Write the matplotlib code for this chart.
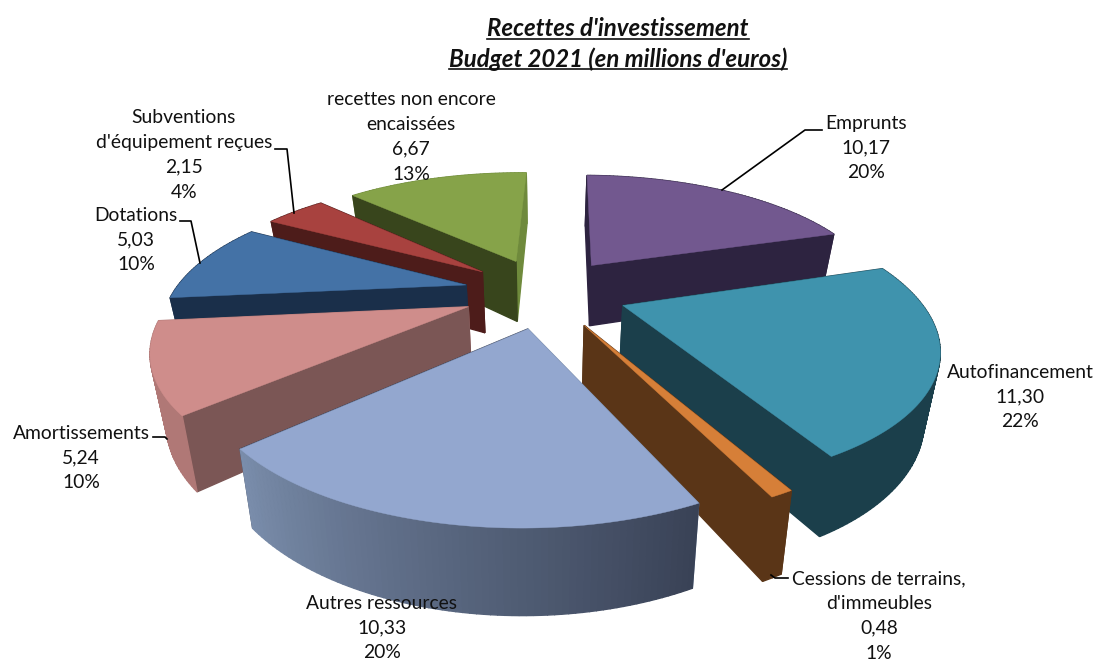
import numpy as np
import matplotlib
matplotlib.use("Agg")
import matplotlib.pyplot as plt
from matplotlib.patches import Polygon
from matplotlib.colors import to_rgb

# ---------- data ----------
names = ["Emprunts", "Autofinancement", "Cessions de terrains,\nd'immeubles", "Autres ressources",
         "Amortissements", "Dotations", "Subventions\nd'équipement reçues", "recettes non encore\nencaissées"]
values = [10.17, 11.30, 0.48, 10.33, 5.24, 5.03, 2.15, 6.67]
title_lines = ["Recettes d'investissement", "Budget 2021 (en millions d'euros)"]

# ---------- styles ----------
top_colors = ["#72588f", "#3f93ad", "#d67f38", "#93a7cf", "#cf8d8b", "#4472a6", "#a8423f", "#86a349"]
radial_colors = ["#2d2340", "#1b3f4b", "#5a3517", "#7a8dab", "#7b5655", "#1a2f4a", "#4d1c1a", "#38451c"]
radial_end_colors = ["#2d2340", "#1b3f4b", "#5a3517", "#394256", "#b07876", "#1a2f4a", "#4d1c1a", "#6f8a3c"]
arc_left = ["#2d2340", "#1b3f4b", "#5a3517", "#7a8dab", "#b07876", "#1a2f4a", "#4d1c1a", "#6f8a3c"]
arc_right = ["#2d2340", "#1b3f4b", "#5a3517", "#394256", "#b07876", "#1a2f4a", "#4d1c1a", "#6f8a3c"]
draw_order = [7, 0, 6, 5, 4, 1, 2, 3]

START = np.radians(1.2)
CX, CY, R, RT, K, EXPL = 545, 292, 292, 125, 0.255, 0.28
CYB, RB, RTB = 355, 280, 138
label_pos = [(866, 148), (1020, 397), (879, 616), (382, 628), (81, 458), (136, 240), (184, 155), (411, 137)]
leaders = [[(822, 130), (805, 130), (722, 190)], [], [(788, 578), (775, 578), (771, 575)], [],
           [(153, 437), (165, 437), (167, 439)], [(180, 221), (191, 221), (200, 263)],
           [(275, 149), (287, 149), (294, 213)], []]
FS = 13.9
FONT = "Lato"


def project(X, Y, bottom=False):
    d = 1 + K * Y
    if bottom:
        return CX + RB * X / d, CYB - RTB * Y / d
    return CX + R * X / d, CY - RT * Y / d


fig = plt.figure(figsize=(10.97, 6.59), dpi=100)
ax = fig.add_axes([0, 0, 1, 1])
ax.set_xlim(0, 1097)
ax.set_ylim(659, 0)
ax.axis("off")

total = sum(values)
edges = START + np.concatenate([[0], np.cumsum(values)]) / total * 2 * np.pi


def mix(a, b, t):
    a, b = np.array(to_rgb(a)), np.array(to_rgb(b))
    return tuple(a + (b - a) * t)


for z, i in enumerate(draw_order):
    a0, a1 = edges[i], edges[i + 1]
    mid = (a0 + a1) / 2
    ox, oy = EXPL * np.sin(mid), EXPL * np.cos(mid)
    th = np.linspace(a0, a1, max(int((a1 - a0) * 60), 3))
    AX, AY = ox + np.sin(th), oy + np.cos(th)
    faces = []
    # radial faces
    for (ex, ey, c) in [(AX[0], AY[0], radial_colors[i]), (AX[-1], AY[-1], radial_end_colors[i])]:
        q = [project(ox, oy), project(ex, ey), project(ex, ey, True), project(ox, oy, True)]
        faces.append(((oy + ey) / 2, q, c))
    # outer face, cut in small facets
    for j in range(len(th) - 1):
        q = [project(AX[j], AY[j]), project(AX[j + 1], AY[j + 1]),
             project(AX[j + 1], AY[j + 1], True), project(AX[j], AY[j], True)]
        t = j / (len(th) - 2)
        faces.append(((AY[j] + AY[j + 1]) / 2, q, mix(arc_right[i], arc_left[i], t)))
    faces.sort(key=lambda f: -f[0])
    for _, q, c in faces:
        ax.add_patch(Polygon(q, closed=True, facecolor=c, edgecolor=c, linewidth=1.0, zorder=2 + z))
    poly = [project(ox, oy)] + [project(x, y) for x, y in zip(AX, AY)]
    ax.add_patch(Polygon(poly, closed=True, facecolor=top_colors[i], edgecolor=top_colors[i],
                         linewidth=0.3, zorder=2 + z + 0.5))

for i, name in enumerate(names):
    pct = round(values[i] / total * 100)
    val = f"{values[i]:.2f}".replace(".", ",")
    ax.text(label_pos[i][0], label_pos[i][1], f"{name}\n{val}\n{pct}%", ha="center", va="center",
            fontsize=FS, family=FONT, color="#111111", linespacing=1.55, zorder=30)
    if leaders[i]:
        xs, ys = zip(*leaders[i])
        ax.plot(xs, ys, color="black", lw=1.2, zorder=29)

fig.canvas.draw()
renderer = fig.canvas.get_renderer()
for line, y in zip(title_lines, [29, 59]):
    t = ax.text(618, y, line, ha="center", va="center", fontsize=17.3, family=FONT,
                weight="bold", style="italic", color="#111111", zorder=30)
    bb = t.get_window_extent(renderer)
    ax.plot([bb.x0, bb.x1], [y + 10, y + 10], color="#111111", lw=1.2, zorder=30)

fig.savefig("out.png", dpi=100)
